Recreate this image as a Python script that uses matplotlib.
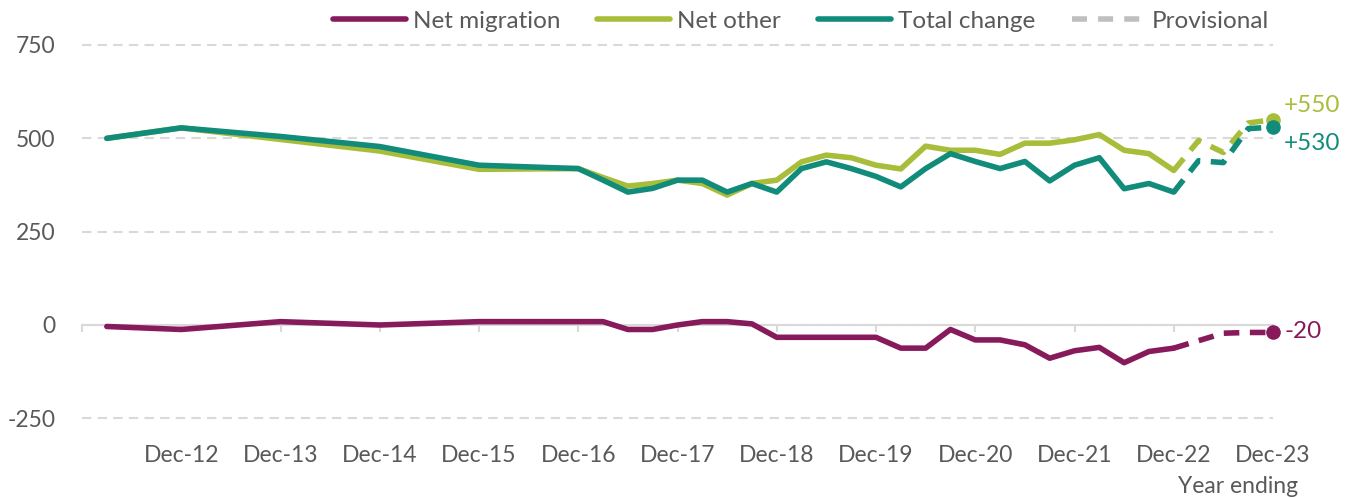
import matplotlib
matplotlib.use("Agg")
import matplotlib.pyplot as plt
from matplotlib.lines import Line2D

plt.rcParams['font.family'] = ['Lato', 'DejaVu Sans']
plt.rcParams['axes.unicode_minus'] = False

# ---------------- data ----------------
periods = ["Mar-12", "Dec-12", "Dec-13", "Dec-14", "Dec-15", "Dec-16", "Mar-17",
           "Jun-17", "Sep-17", "Dec-17", "Mar-18", "Jun-18", "Sep-18", "Dec-18",
           "Mar-19", "Jun-19", "Sep-19", "Dec-19", "Mar-20", "Jun-20", "Sep-20",
           "Dec-20", "Mar-21", "Jun-21", "Sep-21", "Dec-21", "Mar-22", "Jun-22",
           "Sep-22", "Dec-22"]
net_migration = [-4, -12, 9, 0, 9, 9, 9,
                 -12, -12, 0, 9, 9, 3, -33,
                 -33, -33, -33, -33, -62, -62, -12,
                 -40, -40, -53, -89, -69, -60, -101,
                 -71, -62]
net_other = [500, 528, 497, 466, 417, 419, 395,
             372, 379, 388, 379, 348, 379, 388,
             437, 455, 448, 428, 418, 479, 468,
             468, 457, 487, 487, 496, 510, 468,
             459, 414]
total_change = [500, 528, 505, 478, 428, 419, 388,
                356, 366, 388, 388, 356, 379, 356,
                419, 437, 419, 398, 370, 419, 459,
                438, 419, 438, 386, 428, 448, 365,
                379, 356]

prov_periods = ["Dec-22", "Mar-23", "Jun-23", "Sep-23", "Dec-23"]
prov_migration = [-62, -42, -22, -20, -20]
prov_other = [414, 494, 462, 541, 550]
prov_total = [356, 440, 435, 526, 530]

axis_ticks = ["Dec-11", "Dec-12", "Dec-13", "Dec-14", "Dec-15", "Dec-16", "Dec-17",
              "Dec-18", "Dec-19", "Dec-20", "Dec-21", "Dec-22", "Dec-23"]
tick_labels = axis_ticks[1:]
y_ticks = [-250, 0, 250, 500, 750]

series_names = ["Net migration", "Net other", "Total change"]
# ---------------- style ----------------
C_MIG = "#871A5B"
C_OTH = "#A8BD3A"
C_TOT = "#118C7B"
C_PROV = "#BFBFBF"
C_TEXT = "#595959"
C_GRID = "#D9D9D9"
LW = 4.0
FS = 16.5
FS_LEG = 17.5

MONTHS = {"Mar": 3, "Jun": 6, "Sep": 9, "Dec": 12}


def to_x(label):
    m, y = label.split("-")
    return 2000 + int(y) + MONTHS[m] / 12.0


x = [to_x(p) for p in periods]
xp = [to_x(p) for p in prov_periods]

W, H = 1354, 498
fig = plt.figure(figsize=(W / 100, H / 100), dpi=100)
ax = fig.add_axes([82 / W, 1 - 430 / H, (1273 - 82) / W, (430 - 41) / H])

ax.set_xlim(to_x(axis_ticks[0]), to_x(axis_ticks[-1]))
ax.set_ylim(-281.25, 760.7)

# grid
ax.set_yticks(y_ticks)
ax.yaxis.grid(True, color=C_GRID, linestyle=(0, (4.5, 3)), linewidth=1.5)
ax.set_axisbelow(True)
ax.tick_params(axis='y', length=0, labelsize=FS, labelcolor=C_TEXT, pad=19)

for s in ["top", "right", "left"]:
    ax.spines[s].set_visible(False)
ax.spines["bottom"].set_position(("data", 0))
ax.spines["bottom"].set_color(C_GRID)
ax.spines["bottom"].set_linewidth(1.5)
ax.set_xticks([to_x(t) for t in axis_ticks])
ax.tick_params(axis='x', direction='out', length=5, width=1.5, color=C_GRID,
               labelbottom=False)

# x labels at bottom
sec = ax.secondary_xaxis('bottom')
sec.set_xticks([to_x(t) for t in tick_labels])
sec.set_xticklabels(tick_labels)
sec.tick_params(axis='x', length=0, labelsize=FS, labelcolor=C_TEXT, pad=11)
sec.spines["bottom"].set_visible(False)
fig.text(1298 / W, 1 - 486 / H, "Year ending", ha="right", va="center",
         fontsize=FS, color=C_TEXT)

# lines
dash = (0, (2.8, 1.9))
ax.plot(x, net_migration, color=C_MIG, lw=LW, solid_capstyle='round',
        solid_joinstyle='round', zorder=3)
ax.plot(x, net_other, color=C_OTH, lw=LW, solid_capstyle='round',
        solid_joinstyle='round', zorder=3)
ax.plot(x, total_change, color=C_TOT, lw=LW, solid_capstyle='round',
        solid_joinstyle='round', zorder=4)

for vals, col, z in [(prov_migration, C_MIG, 3), (prov_other, C_OTH, 3),
                     (prov_total, C_TOT, 4)]:
    ax.plot(xp, vals, color=col, lw=LW, linestyle=dash, dash_capstyle='butt',
            zorder=z, marker='o', markevery=[len(xp) - 1], markersize=9.5,
            clip_on=False)

# end labels
offsets = [(8.5, 1, 'center'), (8, 10, 'center'), (8, -11.5, 'center')]
for vals, col, (dx, dy, va) in zip([prov_migration, prov_other, prov_total],
                                   [C_MIG, C_OTH, C_TOT], offsets):
    ax.annotate(f"{vals[-1]:+d}", xy=(xp[-1], vals[-1]), xytext=(dx, dy),
                textcoords="offset points", ha="left", va=va, fontsize=17.5,
                color=col, annotation_clip=False)

# legend
handles = [Line2D([], [], color=C_MIG, lw=LW, solid_capstyle='round'),
           Line2D([], [], color=C_OTH, lw=LW, solid_capstyle='round'),
           Line2D([], [], color=C_TOT, lw=LW, solid_capstyle='round'),
           Line2D([], [], color=C_PROV, lw=LW, linestyle=(0, (2.7, 2.0)))]
labels = series_names + ["Provisional"]
fig.legend(handles, labels, loc="center", bbox_to_anchor=(801 / W, 1 - 21 / H),
           ncol=4, frameon=False, fontsize=FS_LEG, labelcolor=C_TEXT,
           handlelength=3.0, handletextpad=0.3, columnspacing=1.5,
           borderpad=0, borderaxespad=0)

fig.savefig("out.png", dpi=100)
